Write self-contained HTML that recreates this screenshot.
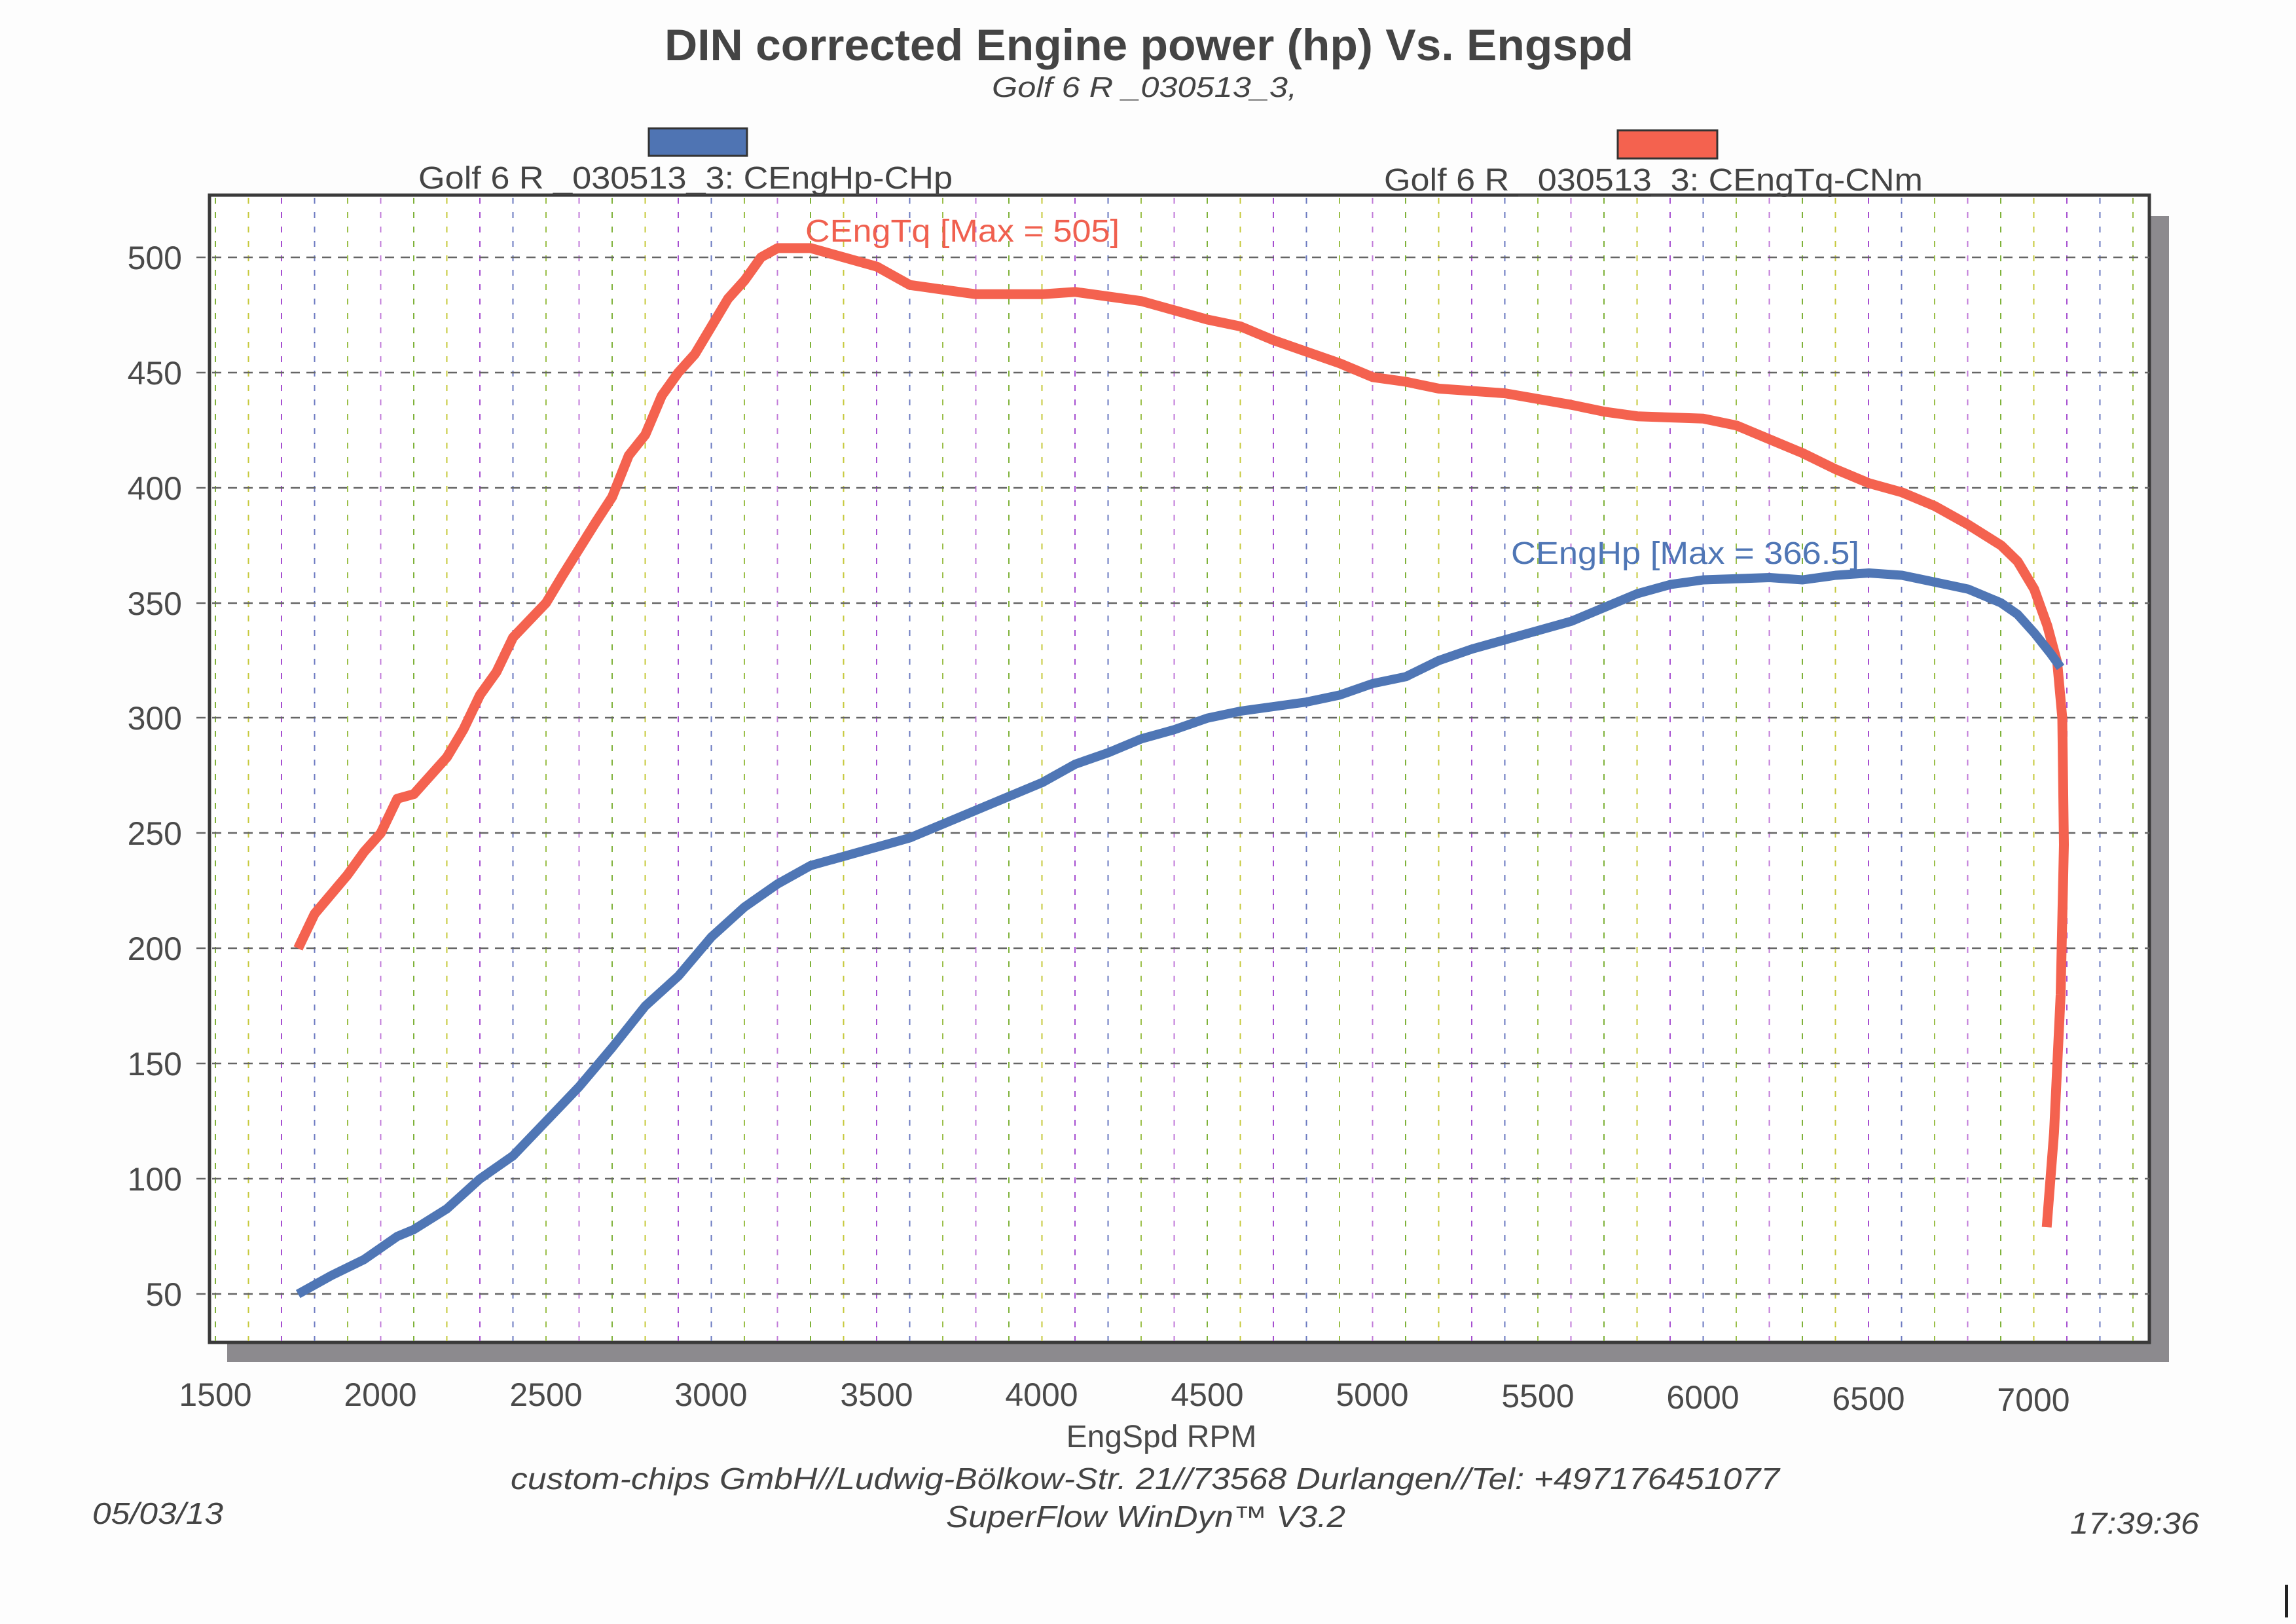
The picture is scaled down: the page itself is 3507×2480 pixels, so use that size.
<!DOCTYPE html>
<html><head><meta charset="utf-8"><style>html,body{margin:0;padding:0;background:#fdfdfd}svg{display:block}</style></head>
<body>
<svg width="3507" height="2480" viewBox="0 0 3507 2480" xmlns="http://www.w3.org/2000/svg" font-family="Liberation Sans, sans-serif">
<rect width="3507" height="2480" fill="#fdfdfd"/>
<rect x="347" y="330" width="2966" height="1750" fill="#8c8a8e"/>
<rect x="320" y="298" width="2963" height="1752" fill="#ffffff" stroke="#3a3a3a" stroke-width="5"/>
<g stroke-width="2" stroke-dasharray="9 13" fill="none">
<path stroke="#7fb23a" d="M329 302V2048M632 302V2048M935 302V2048M1238 302V2048M1541 302V2048M1844 302V2048M2147 302V2048M2450 302V2048M2753 302V2048M3056 302V2048"/>
<path stroke="#c6c83a" d="M379.5 302V2048M682.5 302V2048M985.5 302V2048M1288.5 302V2048M1591.5 302V2048M1894.5 302V2048M2197.5 302V2048M2500.5 302V2048M2803.5 302V2048M3106.5 302V2048"/>
<path stroke="#a64fd0" d="M430 302V2048M733 302V2048M1036 302V2048M1339 302V2048M1642 302V2048M1945 302V2048M2248 302V2048M2551 302V2048M2854 302V2048M3157 302V2048"/>
<path stroke="#6a78c0" d="M480.5 302V2048M783.5 302V2048M1086.5 302V2048M1389.5 302V2048M1692.5 302V2048M1995.5 302V2048M2298.5 302V2048M2601.5 302V2048M2904.5 302V2048M3207.5 302V2048"/>
<path stroke="#9bbf4a" d="M531 302V2048M834 302V2048M1137 302V2048M1440 302V2048M1743 302V2048M2046 302V2048M2349 302V2048M2652 302V2048M2955 302V2048M3258 302V2048"/>
<path stroke="#c07ad8" d="M581.5 302V2048M884.5 302V2048M1187.5 302V2048M1490.5 302V2048M1793.5 302V2048M2096.5 302V2048M2399.5 302V2048M2702.5 302V2048M3005.5 302V2048"/>
</g>
<g stroke="#666" stroke-width="2.5" stroke-dasharray="14 10" fill="none">
<path d="M300 393H3283M300 569H3283M300 745H3283M300 921H3283M300 1096H3283M300 1272H3283M300 1448H3283M300 1624H3283M300 1800H3283M300 1976H3283"/>
</g>
<g font-size="50" fill="#4a4a4a" text-anchor="end">
<text x="278" y="411">500</text><text x="278" y="587">450</text><text x="278" y="763">400</text><text x="278" y="939">350</text><text x="278" y="1114">300</text><text x="278" y="1290">250</text><text x="278" y="1466">200</text><text x="278" y="1642">150</text><text x="278" y="1818">100</text><text x="278" y="1994">50</text>
</g>
<g font-size="50" fill="#4a4a4a" text-anchor="middle">
<text x="329" y="2147">1500</text><text x="581" y="2147">2000</text><text x="834" y="2147">2500</text><text x="1086" y="2147">3000</text><text x="1339" y="2147">3500</text><text x="1591" y="2147">4000</text><text x="1844" y="2147">4500</text><text x="2096" y="2147">5000</text><text x="2349" y="2149">5500</text><text x="2601" y="2151">6000</text><text x="2854" y="2153">6500</text><text x="3106" y="2155">7000</text>
<text x="1774" y="2210" font-size="48">EngSpd RPM</text>
</g>
<text x="1015" y="92" font-size="68" font-weight="bold" fill="#444" textLength="1480" lengthAdjust="spacingAndGlyphs">DIN corrected Engine power (hp) Vs. Engspd</text>
<text x="1515" y="148" font-size="44" font-style="italic" fill="#444" textLength="466" lengthAdjust="spacingAndGlyphs">Golf 6 R _030513_3,</text>
<rect x="991" y="196" width="150" height="42" fill="#4f74b3" stroke="#333" stroke-width="3"/>
<rect x="2471" y="199" width="152" height="43" fill="#f4624f" stroke="#333" stroke-width="3"/>
<text x="639" y="288" font-size="48" fill="#444" textLength="816" lengthAdjust="spacingAndGlyphs">Golf 6 R _030513_3: CEngHp-CHp</text>
<text x="2114" y="291" font-size="48" fill="#444" textLength="823" lengthAdjust="spacingAndGlyphs">Golf 6 R _030513_3: CEngTq-CNm</text>
<text x="1230" y="369" font-size="48" fill="#f0604f" textLength="480" lengthAdjust="spacingAndGlyphs">CEngTq [Max = 505]</text>
<text x="2308" y="861" font-size="48" fill="#4f76b5" textLength="532" lengthAdjust="spacingAndGlyphs">CEngHp [Max = 366.5]</text>
<text x="780" y="2274" font-size="46" font-style="italic" fill="#444" textLength="1938" lengthAdjust="spacingAndGlyphs">custom-chips GmbH//Ludwig-Bölkow-Str. 21//73568 Durlangen//Tel: +497176451077</text>
<text x="1445" y="2332" font-size="46" font-style="italic" fill="#444" textLength="610" lengthAdjust="spacingAndGlyphs">SuperFlow WinDyn™ V3.2</text>
<text x="141" y="2327" font-size="46" font-style="italic" fill="#444" textLength="200" lengthAdjust="spacingAndGlyphs">05/03/13</text>
<text x="3162" y="2342" font-size="46" font-style="italic" fill="#444" textLength="197" lengthAdjust="spacingAndGlyphs">17:39:36</text>
<polyline id="tq" fill="none" stroke="#f4624f" stroke-width="15" stroke-linejoin="round" points=""/>
<polyline id="hp" fill="none" stroke="#4f76b5" stroke-width="14" stroke-linejoin="round" points=""/>
<rect x="3490" y="2420" width="5" height="50" fill="#222"/>
</svg>
<script>
function X(r){return 329+0.5051*(r-1500)}function Y(v){return 393+(500-v)*3.518}
var tq=[[1750,200],[1800,215],[1900,232],[1950,242],[2000,250],[2050,265],[2100,267],[2200,283],[2250,295],[2300,310],[2350,320],[2400,335],[2500,350],[2550,362],[2650,385],[2700,396],[2750,414],[2800,423],[2850,440],[2900,450],[2950,458],[3000,470],[3050,482],[3100,490],[3150,500],[3200,504],[3300,504],[3400,500],[3500,496],[3600,488],[3700,486],[3800,484],[4000,484],[4100,485],[4300,481],[4400,477],[4500,473],[4600,470],[4700,464],[4900,454],[5000,448],[5100,446],[5200,443],[5400,441],[5600,436],[5700,433],[5800,431],[6000,430],[6100,427],[6200,421],[6300,415],[6400,408],[6500,402],[6600,398],[6700,392],[6800,384],[6900,375],[6950,368],[7000,356],[7040,340],[7070,324],[7085,300],[7090,245],[7080,180],[7060,120],[7038,79]];
var hp=[[1750,50],[1850,58],[1950,65],[2050,75],[2100,78],[2200,87],[2300,100],[2400,110],[2500,125],[2600,140],[2700,157],[2800,175],[2900,188],[3000,205],[3100,218],[3200,228],[3300,236],[3400,240],[3600,248],[3700,254],[3800,260],[3900,266],[4000,272],[4100,280],[4200,285],[4300,291],[4400,295],[4500,300],[4600,303],[4700,305],[4800,307],[4900,310],[5000,315],[5100,318],[5200,325],[5300,330],[5400,334],[5500,338],[5600,342],[5700,348],[5800,354],[5900,358],[6000,360],[6200,361],[6300,360],[6400,362],[6500,363],[6600,362],[6700,359],[6800,356],[6900,350],[6950,345],[7000,337],[7050,328],[7080,322]];
function P(a){return a.map(function(p){return X(p[0]).toFixed(1)+","+Y(p[1]).toFixed(1)}).join(" ")}
document.getElementById("tq").setAttribute("points",P(tq));
document.getElementById("hp").setAttribute("points",P(hp));
</script>
</body></html>
